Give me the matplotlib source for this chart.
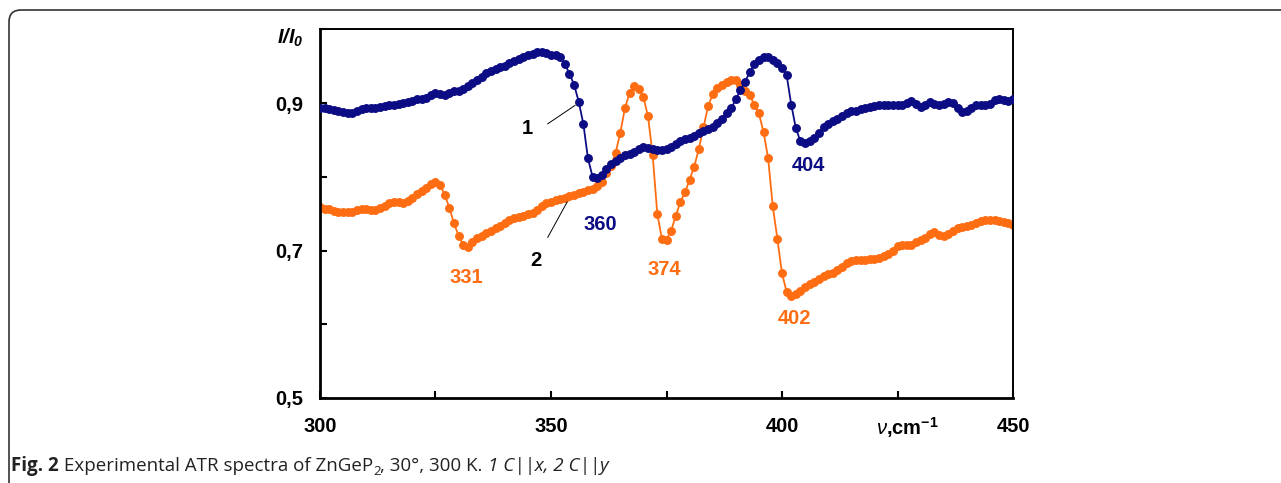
import numpy as np
import matplotlib.pyplot as plt
from matplotlib.patches import FancyBboxPatch

plt.rcParams['font.family'] = ['Liberation Sans', 'DejaVu Sans']
plt.rcParams['mathtext.fontset'] = 'custom'
plt.rcParams['mathtext.rm'] = 'Liberation Sans'
plt.rcParams['mathtext.it'] = 'Liberation Sans:italic'
plt.rcParams['mathtext.bf'] = 'Liberation Sans:bold'
plt.rcParams['mathtext.bfit'] = 'Liberation Sans:italic:bold'

# wavenumber grid, cm-1
nu = np.arange(300, 451, 1)

# curve 1, C||x
r1 = [0.894, 0.893, 0.892, 0.891, 0.890, 0.888, 0.886, 0.887, 0.890, 0.892,
      0.893, 0.893, 0.894, 0.895, 0.896, 0.897, 0.898, 0.899, 0.900, 0.902,
      0.903, 0.905, 0.906, 0.907, 0.911, 0.914, 0.912, 0.911, 0.914, 0.916,
      0.917, 0.919, 0.923, 0.927, 0.932, 0.936, 0.941, 0.944, 0.947, 0.949,
      0.951, 0.954, 0.957, 0.960, 0.963, 0.965, 0.967, 0.969, 0.969, 0.968,
      0.966, 0.965, 0.962, 0.953, 0.940, 0.925, 0.902, 0.872, 0.825, 0.800,
      0.798, 0.803, 0.811, 0.817, 0.822, 0.826, 0.829, 0.831, 0.834, 0.838,
      0.840, 0.839, 0.838, 0.836, 0.837, 0.838, 0.841, 0.845, 0.848, 0.851,
      0.853, 0.856, 0.859, 0.862, 0.865, 0.868, 0.873, 0.879, 0.886, 0.893,
      0.905, 0.918, 0.929, 0.942, 0.953, 0.959, 0.962, 0.962, 0.958, 0.954,
      0.948, 0.938, 0.898, 0.866, 0.848, 0.846, 0.848, 0.853, 0.860, 0.868,
      0.872, 0.876, 0.879, 0.883, 0.886, 0.889, 0.890, 0.892, 0.893, 0.895,
      0.896, 0.897, 0.897, 0.898, 0.898, 0.898, 0.897, 0.900, 0.903, 0.899,
      0.895, 0.897, 0.901, 0.899, 0.897, 0.899, 0.902, 0.900, 0.893, 0.888,
      0.889, 0.894, 0.897, 0.897, 0.897, 0.899, 0.904, 0.906, 0.904, 0.903,
      0.905]

# curve 2, C||y
r2 = [0.759, 0.757, 0.756, 0.754, 0.753, 0.752, 0.752, 0.753, 0.755, 0.757,
      0.757, 0.755, 0.755, 0.758, 0.761, 0.764, 0.766, 0.766, 0.764, 0.767,
      0.772, 0.777, 0.781, 0.785, 0.790, 0.793, 0.789, 0.776, 0.758, 0.737,
      0.720, 0.708, 0.705, 0.712, 0.717, 0.720, 0.724, 0.727, 0.730, 0.734,
      0.738, 0.742, 0.744, 0.746, 0.747, 0.749, 0.751, 0.755, 0.761, 0.764,
      0.766, 0.768, 0.770, 0.772, 0.774, 0.776, 0.778, 0.780, 0.782, 0.784,
      0.787, 0.793, 0.805, 0.815, 0.833, 0.860, 0.893, 0.914, 0.923, 0.919,
      0.908, 0.882, 0.830, 0.750, 0.716, 0.715, 0.727, 0.747, 0.766, 0.779,
      0.796, 0.814, 0.838, 0.867, 0.896, 0.912, 0.921, 0.925, 0.929, 0.932,
      0.931, 0.924, 0.917, 0.911, 0.898, 0.886, 0.861, 0.825, 0.760, 0.716,
      0.669, 0.644, 0.639, 0.641, 0.645, 0.650, 0.654, 0.658, 0.662, 0.665,
      0.668, 0.670, 0.673, 0.678, 0.683, 0.686, 0.687, 0.687, 0.687, 0.688,
      0.689, 0.690, 0.692, 0.695, 0.700, 0.706, 0.708, 0.708, 0.708, 0.711,
      0.714, 0.717, 0.722, 0.725, 0.721, 0.720, 0.722, 0.727, 0.731, 0.732,
      0.733, 0.735, 0.737, 0.740, 0.741, 0.741, 0.741, 0.740, 0.739, 0.737,
      0.735]

# band labels: (text, x, y, colour)
peaks = [('331', 331.6, 0.664, 'orange'),
         ('360', 360.6, 0.735, 'navy'),
         ('374', 374.5, 0.674, 'orange'),
         ('402', 402.6, 0.608, 'orange'),
         ('404', 405.8, 0.815, 'navy')]

navy = '#0c0c84'
orange = '#ff6d12'
cols = {'navy': navy, 'orange': orange}
fs = 14.5

fig = plt.figure(figsize=(12.81, 4.83), dpi=100)
ax = fig.add_axes([0.2498, 0.176, 0.5410, 0.763])

ax.plot(nu, r1, color=navy, lw=1.3, marker='o', ms=5.4, mec=navy, zorder=3)
ax.plot(nu, r2, color=orange, lw=1.3, marker='o', ms=5.4, mec=orange, zorder=2)

ax.set_xlim(300, 450)
ax.set_ylim(0.5, 1.0)
ax.set_xticks(np.arange(300, 451, 25))
ax.set_xticklabels(['300', '', '350', '', '400', '', '450'])
ax.set_yticks(np.arange(0.5, 1.01, 0.1))
ax.set_yticklabels(['0,5', '', '0,7', '', '0,9', ''])
ax.tick_params(direction='in', length=5, width=1.5, labelsize=fs)
ax.tick_params(axis='y', pad=12)
ax.tick_params(axis='x', pad=14)
for lab in ax.get_xticklabels() + ax.get_yticklabels():
          lab.set_fontweight('bold')
for s in ['left', 'bottom']:
          ax.spines[s].set_linewidth(2.0)
for s in ['top', 'right']:
          ax.spines[s].set_linewidth(1.4)

for txt, x, y, c in peaks:
          ax.text(x, y, txt, color=cols[c], fontsize=fs, fontweight='bold',
                  ha='center', va='center')

# curve numbers with leader lines
ax.text(344.8, 0.865, '1', fontsize=fs, fontweight='bold', ha='center', va='center')
ax.plot([349.3, 355.2], [0.872, 0.897], color='black', lw=0.7)
ax.text(346.7, 0.686, '2', fontsize=fs, fontweight='bold', ha='center', va='center')
ax.plot([349.3, 353.5], [0.718, 0.766], color='black', lw=0.7)

# axis titles
fig.text(290 / 1281, 1 - 38 / 483, r'$\mathbfit{I/I}_{\mathbfit{0}}$',
         fontsize=fs, ha='center', va='center')
fig.text(907 / 1281, 1 - 428 / 483, r'$\mathit{\nu}$,cm$^{\mathbf{-1}}$',
         fontsize=fs, fontweight='bold', ha='center', va='center')

# caption, written piece by piece
fig.canvas.draw()
rend = fig.canvas.get_renderer()
pieces = [('Fig. 2', 'bold', 'normal', 13.5, 0),
          (' Experimental ATR spectra of ZnGeP', 'normal', 'normal', 13.5, 0),
          ('2', 'normal', 'normal', 9.5, -4),
          (', 30°, 300 K. ', 'normal', 'normal', 13.5, 0),
          ('1 C||x, 2 C||y', 'normal', 'italic', 13.5, 0)]
xp = 11
for txt, w, st, size, dy in pieces:
          t = fig.text(xp / 1281, (483 - 471 + dy) / 483, txt, fontsize=size,
                       family='Open Sans', fontweight=w, fontstyle=st,
                       ha='left', va='baseline', color='#222222')
          xp += t.get_window_extent(rend).width

# rounded frame around the figure
frame = FancyBboxPatch((9, -60), 1400, 483 - 10 + 60,
                       boxstyle='round,pad=0,rounding_size=12',
                       transform=None, fill=False, ec='#333333', lw=1.2)
fig.patches.append(frame)

fig.savefig('out.png', dpi=100)
